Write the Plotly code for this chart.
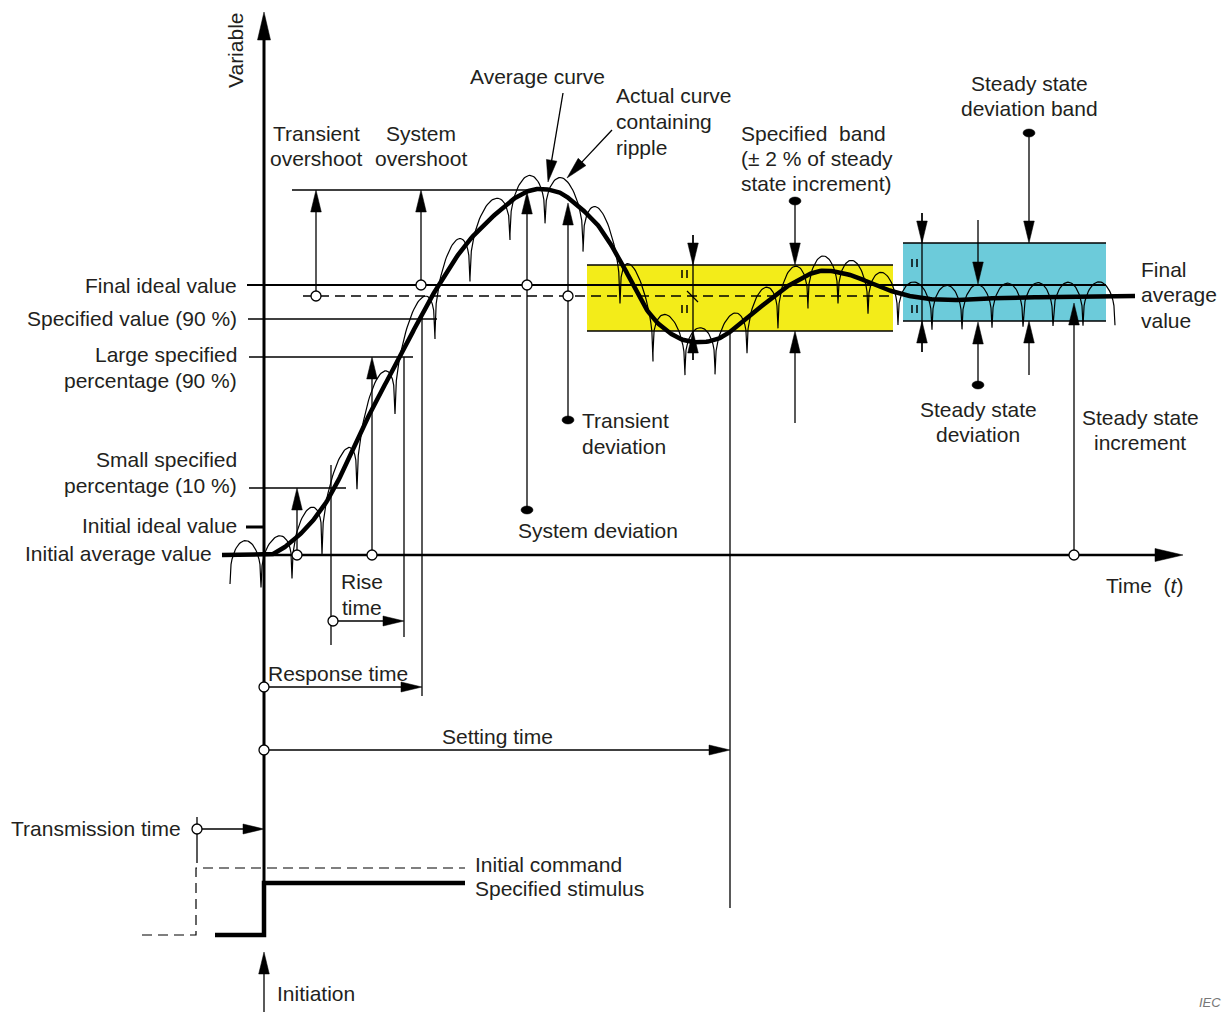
import numpy as np
import plotly.graph_objects as go

W, H = 1227, 1012
FONT = "Liberation Sans, Arial, Helvetica, sans-serif"
TXT = "#231f20"
FS = 21

# ---------------- data (pixel units) ----------------
avg_x = [222, 264, 275, 290, 310, 330, 353, 373, 400, 420, 440, 467, 500, 520, 537,
         555, 567, 585, 600, 620, 647, 670, 693, 720, 747, 773, 793, 820, 850, 880,
         905, 930, 960, 1000, 1050, 1135]
avg_y = [555, 555, 553, 543, 524, 496, 450, 407, 357, 318, 283, 243, 210, 195, 189,
         191, 197, 212, 228, 260, 310, 333, 342, 338, 318, 297, 283, 271, 275, 287,
         295, 299, 300, 298, 297, 296]

ripple_cusps_x = [230, 261, 292, 322, 357, 395, 435, 470, 510, 545, 583, 620, 653, 685,
                  715, 747, 778, 808, 838, 868, 898, 932, 962, 992, 1023, 1053, 1083, 1115]
ripple_amp = 14.5

final_ideal_y = 285
final_avg_y = 296
overshoot_y = 190
spec_value_y = 319
large_pct_y = 357
small_pct_y = 488
init_ideal_y = 527
time_axis_y = 555
axis_x = 264

yellow_band = dict(x0=587, x1=893, y0=265, y1=331, color="#f3ec19")
cyan_band = dict(x0=903, x1=1106, y0=243, y1=321, color="#6ccbda")

shapes = []
annotations = []
circ_x, circ_y = [], []


def seg(x0, y0, x1, y1, w=1.3, dash=None, color="black"):
    ln = dict(color=color, width=w)
    if dash:
        ln["dash"] = dash
    shapes.append(dict(type="line", x0=x0, y0=y0, x1=x1, y1=y1, line=ln, layer="below"))


def arrow(x0, y0, x1, y1, hl=22, hw=5.3, w=1.3):
    dx, dy = x1 - x0, y1 - y0
    L = (dx * dx + dy * dy) ** 0.5
    ux, uy = dx / L, dy / L
    bx, by = x1 - ux * hl, y1 - uy * hl
    seg(x0, y0, bx + ux * 2, by + uy * 2, w)
    px, py = -uy, ux
    path = (f"M {x1} {y1} L {bx + px * hw} {by + py * hw} "
            f"L {bx - px * hw} {by - py * hw} Z")
    shapes.append(dict(type="path", path=path, fillcolor="black",
                       line=dict(color="black", width=0.5), layer="below"))


def dot(cx, cy):
    shapes.append(dict(type="circle", x0=cx - 6, x1=cx + 6, y0=cy - 4, y1=cy + 4,
                       fillcolor="black", line=dict(color="black", width=0.5)))


def ring(cx, cy):
    circ_x.append(cx)
    circ_y.append(cy)


def label(lines, x, y0, xanchor="left", dy=25.5, size=FS, color=TXT, angle=0):
    for i, s in enumerate(lines):
        annotations.append(dict(x=x, y=y0 + i * dy, text=s, xanchor=xanchor,
                                yanchor="middle", showarrow=False, textangle=angle,
                                font=dict(family=FONT, size=size, color=color)))


def catmull(xs, ys, n=16):
    P = np.column_stack([xs, ys]).astype(float)
    P = np.vstack([P[0], P, P[-1]])
    out = []
    for i in range(1, len(P) - 2):
        p0, p1, p2, p3 = P[i - 1], P[i], P[i + 1], P[i + 2]
        for t in np.linspace(0, 1, n, endpoint=False):
            t2, t3 = t * t, t * t * t
            out.append(0.5 * ((2 * p1) + (-p0 + p2) * t + (2 * p0 - 5 * p1 + 4 * p2 - p3) * t2
                              + (-p0 + 3 * p1 - 3 * p2 + p3) * t3))
    out.append(P[-2])
    out = np.array(out)
    return out[:, 0], out[:, 1]


ax_, ay_ = catmull(avg_x, avg_y)

# ripple arches (each arch spans two neighbouring cusps)
rx, ry = [], []
for c0, c1 in zip(ripple_cusps_x[:-1], ripple_cusps_x[1:]):
    t = np.linspace(0, 1, 31)
    xs = c0 + t * (c1 - c0)
    base = np.interp(xs, ax_, ay_)
    rise = abs(base[-1] - base[0])
    A = ripple_amp + 0.08 * rise
    D = 2 * ripple_amp + 0.25 * rise
    s = np.sin(np.pi * t) ** 0.35
    ys = base + D - (A + D) * s
    rx.extend(xs.tolist())
    ry.extend(ys.tolist())

# ---------------- bands ----------------
for b in (yellow_band, cyan_band):
    shapes.append(dict(type="rect", x0=b["x0"], x1=b["x1"], y0=b["y0"], y1=b["y1"],
                       fillcolor=b["color"], line=dict(width=0), layer="below"))
    seg(b["x0"], b["y0"], b["x1"], b["y0"], 1.4)
    seg(b["x0"], b["y1"], b["x1"], b["y1"], 1.4)

# "II" marks in bands
for mx, my in [(682, 274), (682, 309), (912, 263), (912, 309)]:
    seg(mx, my - 4, mx, my + 4, 1.5)
    seg(mx + 5, my - 4, mx + 5, my + 4, 1.5)

# ---------------- reference lines ----------------
seg(247, final_ideal_y, 1106, final_ideal_y, 2.0)
seg(303, final_avg_y, 893, final_avg_y, 1.3, dash="10px,6px")
seg(292, overshoot_y, 532, overshoot_y)
seg(248, spec_value_y, 437, spec_value_y)
seg(249, large_pct_y, 413, large_pct_y)
seg(249, small_pct_y, 346, small_pct_y)
seg(246, init_ideal_y, axis_x, init_ideal_y, 3)

# axes
arrow(axis_x, 883, axis_x, 12, hl=28, hw=6.5, w=3)
arrow(axis_x, time_axis_y, 1183, time_axis_y, hl=28, hw=6.5, w=2.5)
arrow(axis_x, 1012, axis_x, 952, hl=22, hw=5.3)

# stimulus / command
shapes.append(dict(type="path", path="M 215 935 L 264 935 L 264 883 L 465 883",
                   line=dict(color="black", width=4.5), layer="below"))
shapes.append(dict(type="path", path="M 142 935 L 196 935 L 196 868 L 465 868",
                   line=dict(color="black", width=1.2, dash="10px,6px"), layer="below"))

# transmission time
seg(197, 817, 197, 863)
arrow(197, 829, axis_x, 829, hl=21, hw=5)
ring(197, 829)

# time markers (vertical guide lines)
seg(331, 465, 331, 645)
seg(404, 357, 404, 637)
seg(422, 317, 422, 696)
seg(730, 332, 730, 908)

arrow(333, 621, 404, 621, hl=21, hw=5)
ring(333, 621)
arrow(axis_x, 687, 422, 687, hl=21, hw=5)
ring(axis_x, 687)
arrow(axis_x, 750, 730, 750, hl=21, hw=5)
ring(axis_x, 750)

# rise arrows from time axis
arrow(297, time_axis_y, 297, small_pct_y, hl=22, hw=5.3)
ring(297, time_axis_y)
arrow(372, time_axis_y, 372, large_pct_y, hl=22, hw=5.3)
ring(372, time_axis_y)

# overshoot arrows
arrow(316, final_avg_y, 316, overshoot_y)
ring(316, final_avg_y)
arrow(421, final_ideal_y, 421, overshoot_y)
ring(421, final_ideal_y)

# system / transient deviation
arrow(527, 510, 527, 192)
ring(527, final_ideal_y)
dot(527, 510)
arrow(568, 420, 568, 203)
ring(568, final_avg_y)
dot(568, 420)

# curve pointers
arrow(563, 93, 548, 182, hl=22, hw=5.3)
arrow(612, 130, 567, 178, hl=22, hw=5.3)

# specified band arrows
seg(693, 235, 693, 360)
arrow(693, 235, 693, 265, hl=22, hw=5.3)
arrow(693, 360, 693, 331, hl=22, hw=5.3)
seg(687, 291, 698, 302)
dot(795, 201)
arrow(795, 205, 795, 265, hl=22, hw=5.3)
arrow(795, 423, 795, 331, hl=22, hw=5.3)

# steady state band arrows
seg(922, 213, 922, 352)
arrow(922, 213, 922, 243, hl=22, hw=5.3)
arrow(922, 352, 922, 321, hl=22, hw=5.3)
arrow(978, 220, 978, 284, hl=22, hw=5.3)
arrow(978, 385, 978, 322, hl=22, hw=5.3)
dot(978, 385)
dot(1029, 133)
arrow(1029, 137, 1029, 243, hl=22, hw=5.3)
arrow(1029, 375, 1029, 321, hl=22, hw=5.3)
arrow(1074, time_axis_y, 1074, 303, hl=22, hw=5.3)
ring(1074, time_axis_y)

# ---------------- texts ----------------
label(["Variable"], 235, 50, "center", angle=-90)
label(["Average curve"], 537, 76, "center")
label(["Actual curve", "containing", "ripple"], 614, 95, "left", dy=26)
label(["Transient", "overshoot"], 316, 133, "center")
label(["System", "overshoot"], 421, 133, "center")
label(["Specified\u00a0 band", "(\u00b1 2 % of steady", "state increment)"], 739, 133, "left", dy=25)
label(["Steady state", "deviation band"], 1029, 83, "center", dy=25)
label(["Final ideal value"], 239, 285, "right")
label(["Specified value (90 %)"], 239, 318, "right")
label(["Large specified", "percentage (90 %)"], 239, 354, "right", dy=26)
label(["Small specified", "percentage (10 %)"], 239, 459, "right", dy=26)
label(["Initial ideal value"], 239, 525, "right")
label(["Initial average value"], 214, 553, "right")
label(["Transient", "deviation"], 580, 420, "left", dy=26)
label(["System deviation"], 598, 530, "center")
label(["Steady state", "deviation"], 978, 409, "center", dy=25)
label(["Steady state", "increment"], 1140, 417, "center", dy=25)
label(["Final", "average", "value"], 1139, 269, "left", dy=25.5)
label(["Time\u00a0 (<i>t</i>)"], 1185, 585, "right")
label(["Rise", "time"], 362, 581, "center", dy=26)
label(["Response time"], 266, 673, "left")
label(["Setting time"], 497, 736, "center")
label(["Transmission time"], 183, 828, "right")
label(["Initial command"], 473, 864, "left")
label(["Specified stimulus"], 473, 888, "left")
label(["Initiation"], 275, 993, "left")
label(["<i>IEC</i>"], 1223, 1002, "right", size=13, color="#777")

# ---------------- figure ----------------
fig = go.Figure()
fig.add_trace(go.Scatter(x=rx, y=ry, mode="lines", line=dict(color="black", width=1.2),
                         hoverinfo="skip"))
fig.add_trace(go.Scatter(x=ax_, y=ay_, mode="lines", line=dict(color="black", width=4.5),
                         hoverinfo="skip"))
fig.add_trace(go.Scatter(x=circ_x, y=circ_y, mode="markers",
                         marker=dict(symbol="circle", size=10, color="white",
                                     line=dict(color="black", width=1.3)),
                         hoverinfo="skip"))

fig.update_layout(
    width=W, height=H, autosize=False,
    margin=dict(l=0, r=0, t=0, b=0, pad=0),
    paper_bgcolor="white", plot_bgcolor="white",
    showlegend=False,
    xaxis=dict(range=[0, W], visible=False, fixedrange=True),
    yaxis=dict(range=[H, 0], visible=False, fixedrange=True),
    shapes=shapes, annotations=annotations,
)

fig.write_html("out.html", config={"displayModeBar": False},
               post_script="document.body.style.margin='0';")
